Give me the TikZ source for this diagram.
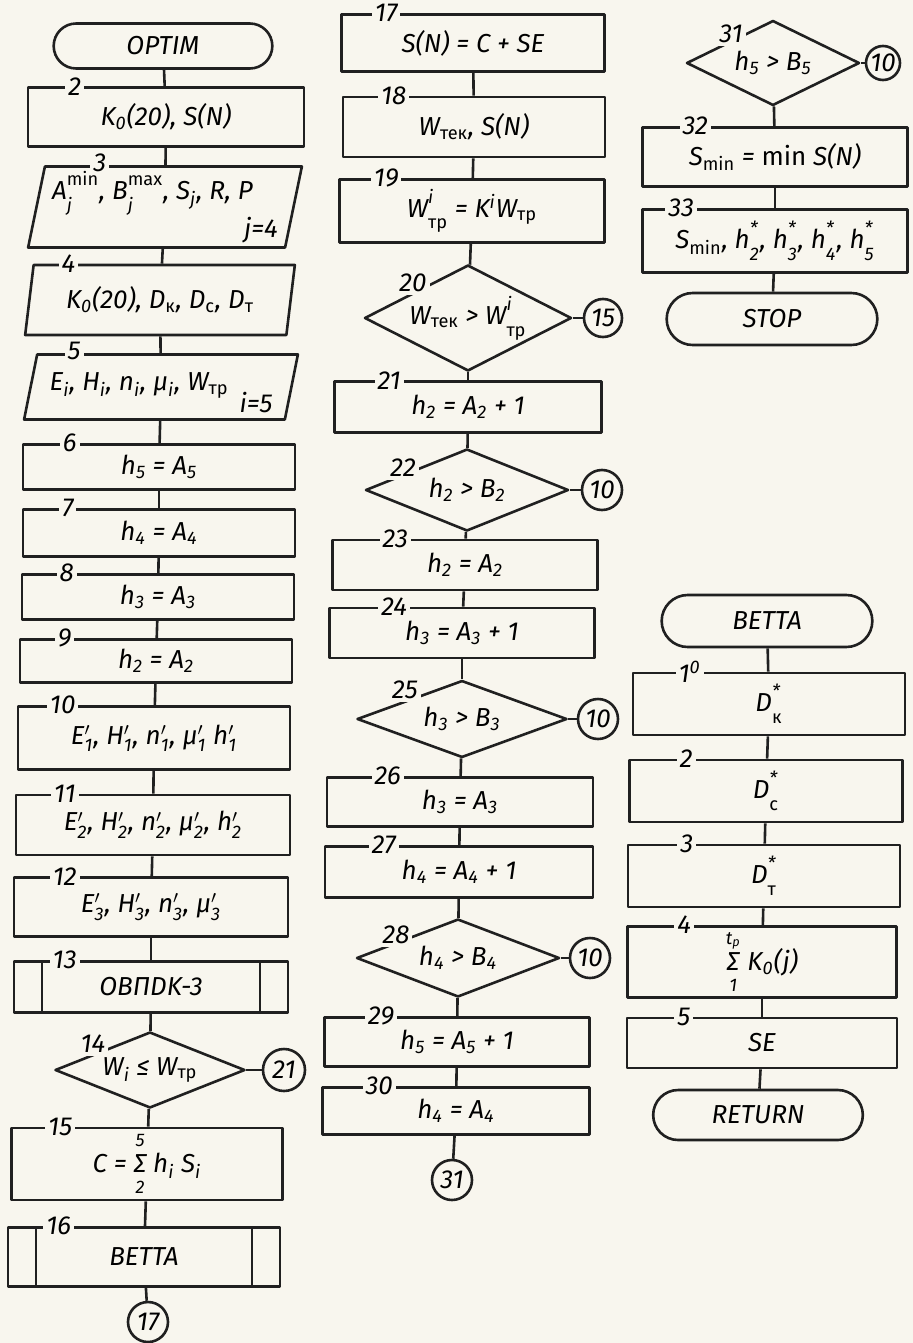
\documentclass[tikz,border=0pt]{standalone}
\usepackage{fontspec}
\setmainfont{Fira Sans}
\usepackage{amsmath}
\usetikzlibrary{shapes.geometric,shapes.misc}
\definecolor{paper}{RGB}{248,246,238}
\definecolor{ink}{RGB}{32,32,32}
% sub/superscripts in the text font
\newcommand{\ilo}[1]{\ensuremath{_{\text{#1}}}}
\newcommand{\rlo}[1]{\ensuremath{_{\text{\upshape #1}}}}
\newcommand{\ihi}[1]{\ensuremath{^{\text{#1}}}}
\newcommand{\ihilo}[2]{\ensuremath{^{\text{#1\rule[-0.3em]{0pt}{0.3em}}}_{\text{#2\rule{0pt}{0.9em}}}}}
\newcommand{\iprm}[1]{\ensuremath{^{\prime}_{\text{#1}}}}
\newcommand{\isum}[2]{\ensuremath{\mathop{\text{Σ}}\limits^{\text{#1\rule[-0.3em]{0pt}{0.3em}}}_{\text{#2\rule{0pt}{0.9em}}}}}
\begin{document}
\begin{tikzpicture}[x=0.5pt, y=-0.5pt, font=\fontsize{13}{15}\selectfont\itshape,
    ln/.style={line width=1.3pt, draw=ink, line join=round},
    blk/.style={ln, rectangle, minimum width=136pt, inner sep=2pt},
    io/.style={ln, trapezium, trapezium left angle=78, trapezium right angle=102,
               trapezium stretches=true, minimum width=136pt, inner sep=1pt, align=left},
    pre/.style={blk, path picture={
        \draw[ln] ([xshift=14pt]path picture bounding box.north west) -- ([xshift=14pt]path picture bounding box.south west)
                  ([xshift=-14pt]path picture bounding box.north east) -- ([xshift=-14pt]path picture bounding box.south east);}},
    term/.style={ln, rounded rectangle, minimum width=112pt, minimum height=26pt},
    cond/.style={ln, diamond, inner sep=0pt,
                 execute at begin node={\hbox to 0pt\bgroup\hss}, execute at end node={\hss\egroup}},
    con/.style={ln, circle, minimum size=20pt, inner sep=0pt},
    num/.style={fill=paper, inner sep=1.5pt}]
  \fill[paper] (0,0) rectangle (913,1343);
  \useasboundingbox (0,0) rectangle (913,1343);

  % OPTIM, first column
  \node[term, minimum width=116pt, minimum height=22.5pt] (optim) at (163,46) {OPTIM};
  \node[blk, minimum width=138pt, minimum height=29.5pt] (b2) at (166,117) {K\ilo{0}(20), S(N)};
  \node[io, minimum width=137pt, minimum height=40.5pt] (b3) at (165,207)
    {A\ihilo{\upshape min}{j}, B\ihilo{\upshape max}{j}, S\ilo{j}, R, P\\\hspace*{96pt}j=4};
  \node[io, minimum width=135pt, minimum height=35pt] (b4) at (160,300) {K\ilo{0}(20), D\rlo{к}, D\rlo{с}, D\rlo{т}};
  \node[io, minimum width=137pt, minimum height=32.5pt] (b5) at (161,387)
    {\rule{0pt}{15pt}E\ilo{i}, H\ilo{i}, n\ilo{i}, μ\ilo{i}, W\rlo{тр}\\[-4pt]\hspace*{95pt}i=5};
  \node[blk, minimum height=22.5pt] (b6) at (159,467) {h\ilo{5} = A\ilo{5}};
  \node[blk, minimum height=23.5pt] (b7) at (159,533) {h\ilo{4} = A\ilo{4}};
  \node[blk, minimum height=22.5pt] (b8) at (158,597) {h\ilo{3} = A\ilo{3}};
  \node[blk, minimum height=21.5pt] (b9) at (156,661) {h\ilo{2} = A\ilo{2}};
  \node[blk, minimum height=31.5pt] (b10) at (154,738) {E\iprm{1}, H\iprm{1}, n\iprm{1}, μ\iprm{1} h\iprm{1}};
  \node[blk, minimum width=137pt, minimum height=30pt] (b11) at (153,825) {E\iprm{2}, H\iprm{2}, n\iprm{2}, μ\iprm{2}, h\iprm{2}};
  \node[blk, minimum width=137pt, minimum height=29.5pt] (b12) at (151,907) {E\iprm{3}, H\iprm{3}, n\iprm{3}, μ\iprm{3}};
  \node[pre, minimum width=137pt, minimum height=25.5pt] (b13) at (151,987) {OBПDK-3};
  \node[cond, minimum width=95pt, minimum height=38pt] (d14) at (150,1070) {W\ilo{i} ≤ W\rlo{тр}};
  \node[con, minimum size=21pt] (c21) at (284,1070) {21};
  \node[blk, minimum width=135.5pt, minimum height=36pt] (b15) at (147,1164) {C = \isum{5}{2} h\ilo{i} S\ilo{i}};
  \node[pre, minimum height=29.5pt] (b16) at (144,1257) {BETTA};
  \node[con] (c17) at (148,1322) {17};

  % second column
  \node[blk, minimum width=131.5pt, minimum height=28.5pt] (b17) at (473,43) {S(N) = C + SE};
  \node[blk, minimum width=131pt, minimum height=30pt] (b18) at (474,127) {W\rlo{тек}, S(N)};
  \node[blk, minimum width=132.5pt, minimum height=31.5pt] (b19) at (472,211) {W\ihilo{i}{\upshape тр} = K\ihi{i}W\rlo{тр}};
  \node[cond, minimum width=103.5pt, minimum height=53pt] (d20) at (468,318) {W\rlo{тек} > W\ihilo{i}{\upshape тр}};
  \node[con, minimum size=19pt] (c15) at (603,318) {15};
  \node[blk, minimum width=133.5pt, minimum height=25.5pt] (b21) at (468,407) {h\ilo{2} = A\ilo{2} + 1};
  \node[cond, minimum width=101.5pt, minimum height=41pt] (d22) at (467,490) {h\ilo{2} > B\ilo{2}};
  \node[con] (c10a) at (602,490) {10};
  \node[blk, minimum width=132.5pt, minimum height=25pt] (b23) at (465,565) {h\ilo{2} = A\ilo{2}};
  \node[blk, minimum width=132.5pt, minimum height=25pt] (b24) at (462,633) {h\ilo{3} = A\ilo{3} + 1};
  \node[cond, minimum width=105pt, minimum height=38.5pt] (d25) at (462,719) {h\ilo{3} > B\ilo{3}};
  \node[con] (c10b) at (598,719) {10};
  \node[blk, minimum width=133pt, minimum height=24.5pt] (b26) at (460,802) {h\ilo{3} = A\ilo{3}};
  \node[blk, minimum width=134pt, minimum height=25.5pt] (b27) at (459,872) {h\ilo{4} = A\ilo{4} + 1};
  \node[cond, minimum width=101.5pt, minimum height=39pt] (d28) at (458,958) {h\ilo{4} > B\ilo{4}};
  \node[con] (c10c) at (590,958) {10};
  \node[blk, minimum width=132.5pt, minimum height=24.5pt] (b29) at (457,1042) {h\ilo{5} = A\ilo{5} + 1};
  \node[blk, minimum width=133.5pt, minimum height=23.5pt] (b30) at (456,1111) {h\ilo{4} = A\ilo{4}};
  \node[con] (c31) at (452,1180) {31};

  % third column
  \node[cond, minimum width=86.5pt, minimum height=42.5pt] (d31) at (773,63) {h\ilo{5} > B\ilo{5}};
  \node[con, minimum size=17pt] (c10d) at (883,63) {10};
  \node[blk, minimum width=132.5pt, minimum height=29.5pt] (b32) at (775,157) {S\rlo{min} = {\upshape min} S(N)};
  \node[blk, minimum width=132.5pt, minimum height=31.5pt] (b33) at (775,241)
    {S\rlo{min}, h\ihilo{*}{2}, h\ihilo{*}{3}, h\ihilo{*}{4}, h\ihilo{*}{5}};
  \node[term] (stop) at (772,319) {STOP};

  % subroutine BETTA
  \node[term] (betta) at (767,621) {BETTA};
  \node[blk, minimum width=136pt, minimum height=31pt] (s1) at (769,704) {D\ihilo{*}{\upshape к}};
  \node[blk, minimum width=136.5pt, minimum height=31pt] (s2) at (766,791) {D\ihilo{*}{\upshape с}};
  \node[blk, minimum width=136pt, minimum height=31pt] (s3) at (764,876) {D\ihilo{*}{\upshape т}};
  \node[blk, minimum width=134.5pt, minimum height=32.5pt] (s4) at (762,962) {\isum{t\ilo{p}}{1} K\ilo{0}(j)};
  \node[blk, minimum width=135pt, minimum height=25pt] (s5) at (762,1043) {SE};
  \node[term, minimum width=111.5pt, minimum height=25pt] (ret) at (758,1115) {RETURN};

  % flow lines
  \foreach \a/\b in {optim/b2, b2/b3, b3/b4, b4/b5, b5/b6, b6/b7, b7/b8, b8/b9, b9/b10, b10/b11,
                     b11/b12, b12/b13, b13/d14, d14/b15, b15/b16, b16/c17, d14/c21,
                     b17/b18, b18/b19, b19/d20, d20/b21, b21/d22, d22/b23, b23/b24, b24/d25,
                     d25/b26, b26/b27, b27/d28, d28/b29, b29/b30, b30/c31,
                     d20/c15, d22/c10a, d25/c10b, d28/c10c,
                     d31/c10d, d31/b32, b32/b33, b33/stop,
                     betta/s1, s1/s2, s2/s3, s3/s4, s4/s5, s5/ret}
    \draw[ln] (\a) -- (\b);

  % block numbers
  \foreach \b/\t/\d in {b2/2/24, b6/6/24, b7/7/23, b8/8/23, b9/9/23, b10/10/23, b11/11/25,
                        b12/12/26, b13/13/26, b15/15/25, b16/16/26,
                        b17/17/23, b18/18/26, b19/19/24, b21/21/28, b23/23/32, b24/24/33,
                        b26/26/31, b27/27/30, b29/29/29, b30/30/29, b32/32/27, b33/33/20,
                        s1/1\textsuperscript{0}/29, s2/2/29, s3/3/30, s4/4/29, s5/5/29}
    \node[num] (n-\b) at ([xshift=\d pt]\b.north west) {\t};
  \node[num] (n-b3) at ([xshift=28pt, yshift=1pt]b3.top left corner) {3};
  \node[num] (n-b4) at ([xshift=18pt]b4.top left corner) {4};
  \node[num] (n-b5) at ([xshift=19pt, yshift=1pt]b5.top left corner) {5};
  \node[num] (n-d14) at (93,1044) {14};
  \node[num] (n-d20) at (413,283) {20};
  \node[num] (n-d22) at (403,468) {22};
  \node[num] (n-d25) at (405,690) {25};
  \node[num] (n-d28) at (396,935) {28};
  \node[num] (n-d31) at (731,34) {31};
\end{tikzpicture}
\end{document}
